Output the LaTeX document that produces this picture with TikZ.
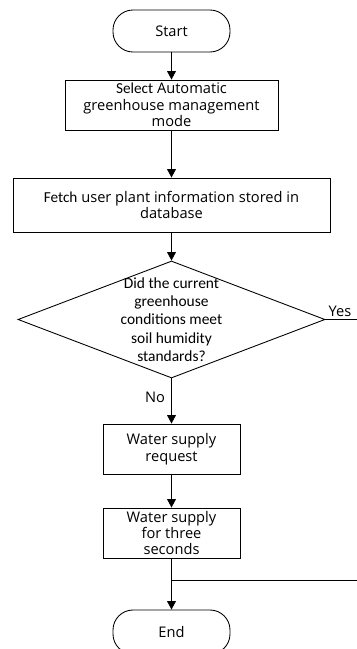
\documentclass[tikz,border=0pt]{standalone}
\usepackage{fontspec}
\setmainfont{Open Sans}
\newfontfamily\calfont{Carlito}
\usetikzlibrary{arrows.meta,shapes.geometric}

\begin{document}
\begin{tikzpicture}[x=0.3mm,y=-0.3mm,line width=0.75pt,
    every node/.style={font=\fontsize{12.5}{14}\selectfont},
    terminal/.style={draw,rounded corners=6mm,minimum width=35.1mm,minimum height=12.6mm},
    process/.style={draw,align=center,inner sep=1pt},
    decision/.style={draw,diamond,minimum width=92.1mm,minimum height=35.1mm,inner sep=0pt}]
\useasboundingbox (0,0) rectangle (356,649);
\begin{scope}[>={Triangle[length=2.5mm,width=2.6mm]}]
    % boxes down the main line
    \node[terminal] (start) at (171.5,31) {Start};
    \node[process,minimum width=63.9mm,minimum height=15mm] (mode) at (171.5,105)
        {{\calfont\fontsize{13}{14}\selectfont Select} Automatic\\greenhouse management\\mode};
    \node[process,minimum width=95.1mm,minimum height=16.2mm] (fetch) at (171.5,205)
        {{\calfont\fontsize{13}{14}\selectfont Fetch} user plant information stored in\\database};
    \node[decision] (check) at (171.5,319.5) {};
    \node[align=center,font=\calfont\fontsize{13.2}{15.6}\selectfont] (checktext) at (check)
        {Did the current\\greenhouse\\conditions meet\\soil humidity\\standards?};
    \node[process,minimum width=41.1mm,minimum height=15mm] (request) at (171.5,449)
        {Water supply\\request};
    \node[process,minimum width=41.1mm,minimum height=15mm] (supply) at (171.5,533)
        {Water supply\\for three\\seconds};
    \node[terminal,minimum height=13.2mm] (end) at (171.5,632) {End};

    \draw[->] (start) -- (mode);
    \draw[->] (mode) -- (fetch);
    \draw[->] (fetch) -- (check);
    \draw[->] (check) -- (request);
    \draw[black] (155,397) node{No};
    \draw[->] (request) -- (supply);

    % yes branch joins again above the end
    \coordinate (join) at (171.5,580);
    \coordinate (loop) at (364,319.5);
    \draw (check.east) -- (loop) |- (join);
    \draw[black] (340,311) node{Yes};
    \draw[->] (supply) -- (end);
\end{scope}
\end{tikzpicture}
\end{document}
